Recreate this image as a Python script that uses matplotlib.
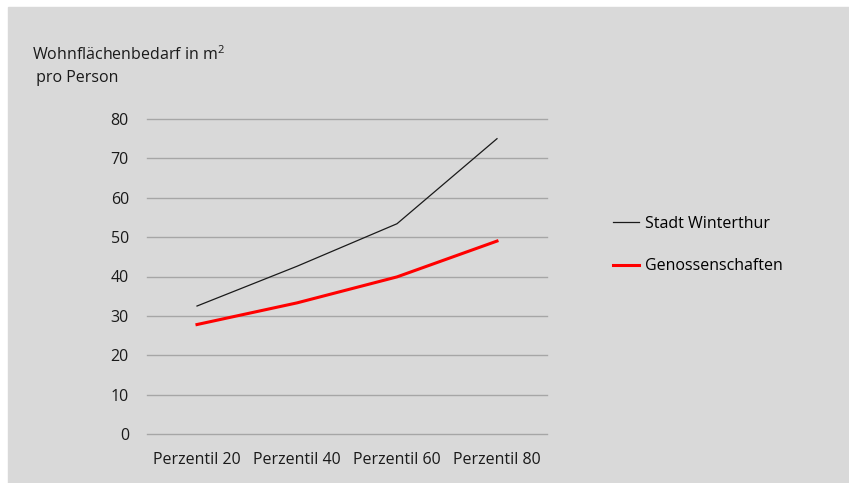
import matplotlib.pyplot as plt
from matplotlib.patches import Rectangle

plt.rcParams['font.family'] = ['Open Sans', 'DejaVu Sans']

# Daten
kategorien = ['Perzentil 20', 'Perzentil 40', 'Perzentil 60', 'Perzentil 80']
winterthur = [32.5, 42.6, 53.4, 75.0]
genossenschaften = [27.8, 33.3, 39.9, 49.0]
yticks = [0, 10, 20, 30, 40, 50, 60, 70, 80]

W, H = 849, 483
fig = plt.figure(figsize=(W / 100, H / 100), dpi=100)
fig.patch.set_facecolor('white')
# grauer Hintergrund mit weissem Rand oben/links
fig.patches.append(Rectangle((8 / W, 0), 1 - 8 / W, (H - 7) / H,
                             transform=fig.transFigure, color='#d9d9d9', zorder=-5))

ax = fig.add_axes([147 / W, (H - 434) / H, 400 / W, 315 / H])
ax.set_facecolor('none')

x = range(len(kategorien))
ax.plot(x, winterthur, color='#1a1a1a', lw=0.9, label='Stadt Winterthur', zorder=3)
ax.plot(x, genossenschaften, color='#ff0000', lw=2.2, label='Genossenschaften', zorder=3)

ax.set_xlim(-0.5, 3.5)
ax.set_ylim(0, 80)
ax.set_yticks(yticks)
ax.set_xticks(list(x))
ax.set_xticklabels(kategorien)
ax.grid(axis='y', color='#a6a6a6', lw=1)
for gl in ax.get_ygridlines():
    gl.set_clip_on(False)
ax.set_axisbelow(True)
for s in ax.spines.values():
    s.set_visible(False)
ax.tick_params(axis='both', length=0, labelsize=11.5, colors='#1a1a1a')
ax.tick_params(axis='y', pad=13)
ax.tick_params(axis='x', pad=13)

fig.text(32 / W, 1 - 66 / H, 'Wohnflächenbedarf in $\\mathregular{m^2}$\n pro Person',
         fontsize=11.5, color='#1a1a1a', va='center', ha='left', linespacing=1.5)

ax.legend(loc='center left', bbox_to_anchor=(599 / W, 1 - 245 / H),
          bbox_transform=fig.transFigure, frameon=False, fontsize=11.5,
          handlelength=1.6, handletextpad=0.4, labelspacing=1.65)

fig.savefig('out.png', dpi=100)
